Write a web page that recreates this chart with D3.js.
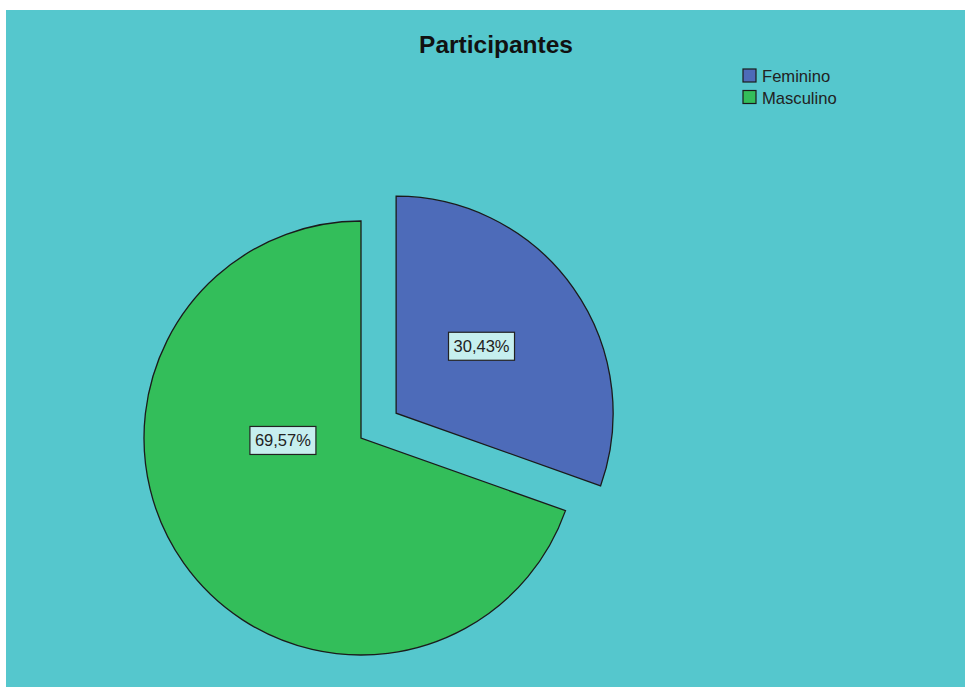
<!DOCTYPE html>
<html>
<head>
<meta charset="utf-8">
<script src="https://cdn.jsdelivr.net/npm/d3@7"></script>
<style>
  body { margin: 0; background: #fff; }
  svg { display: block; }
</style>
</head>
<body>
<div id="chart"></div>
<script>
(function() {
  var width = 965,
    height = 687;

  // data
  var categories = ["Feminino", "Masculino"];
  var percents = [30.43, 69.57];
  var labels = ["30,43%", "69,57%"];
  var colors = ["#4d6bb9", "#33be5a"];

  var svg = d3.select("#chart")
    .append("svg")
    .attr("width", width)
    .attr("height", height);

  // teal plot background
  svg.append("rect")
    .attr("x", 6)
    .attr("y", 10)
    .attr("width", width - 6)
    .attr("height", height - 10)
    .attr("fill", "#55c7cd");

  svg.append("text")
    .attr("x", 496)
    .attr("y", 53)
    .attr("text-anchor", "middle")
    .attr("font-family", "Liberation Sans, Arial, sans-serif")
    .attr("font-weight", "bold")
    .attr("font-size", "24.5px")
    .attr("fill", "#111")
    .text("Participantes");

  var radius = 217,
    cx = 361,
    cy = 438,
    explode = 43;

  var pie = d3.pie().sort(null).value(function(d) { return d.value; });
  var arc = d3.arc().innerRadius(0).outerRadius(radius);

  var rows = categories.map(function(c, i) {
    return { name: c, value: percents[i], label: labels[i], color: colors[i] };
  });
  var arcs = pie(rows);

  // the first (smaller) slice is pulled out along its bisector
  function offset(d, i) {
    if (i !== 0) return [0, 0];
    var mid = (d.startAngle + d.endAngle) / 2;
    return [Math.sin(mid) * explode, -Math.cos(mid) * explode];
  }

  var slices = svg.selectAll(".slice")
    .data(arcs)
    .enter().append("g")
    .attr("class", "slice")
    .attr("transform", function(d, i) {
      var o = offset(d, i);
      return "translate(" + (cx + o[0]) + "," + (cy + o[1]) + ")";
    });

  slices.append("path")
    .attr("d", arc)
    .attr("fill", function(d) { return d.data.color; })
    .attr("stroke", "#1b1b1b")
    .attr("stroke-width", 1.3)
    .attr("stroke-linejoin", "miter");

  // label anchor: small slice on its bisector, big slice toward the left side
  function labelPos(d) {
    if (d.endAngle - d.startAngle < Math.PI) {
      var mid = (d.startAngle + d.endAngle) / 2 - 0.05;
      return [Math.sin(mid) * radius * 0.5, -Math.cos(mid) * radius * 0.5];
    }
    var a = Math.PI * 1.49;
    return [Math.sin(a) * radius * 0.36, -Math.cos(a) * radius * 0.36];
  }

  var lab = slices.append("g")
    .attr("transform", function(d) {
      var p = labelPos(d);
      return "translate(" + p[0] + "," + p[1] + ")";
    });

  lab.append("rect")
    .attr("x", -33)
    .attr("y", -14)
    .attr("width", 66)
    .attr("height", 28)
    .attr("fill", "#c6efef")
    .attr("stroke", "#222")
    .attr("stroke-width", 1.2);

  lab.append("text")
    .attr("text-anchor", "middle")
    .attr("y", 6)
    .attr("font-family", "Liberation Sans, Arial, sans-serif")
    .attr("font-size", "16.5px")
    .attr("fill", "#222")
    .text(function(d) { return d.data.label; });

  // legend
  var legend = svg.selectAll(".legend")
    .data(rows)
    .enter().append("g")
    .attr("class", "legend")
    .attr("transform", function(d, i) {
      return "translate(743," + (69 + i * 21.5) + ")";
    });

  legend.append("rect")
    .attr("width", 13)
    .attr("height", 13)
    .attr("fill", function(d) { return d.color; })
    .attr("stroke", "#1b1b1b")
    .attr("stroke-width", 1.2);

  legend.append("text")
    .attr("x", 19)
    .attr("y", 13)
    .attr("font-family", "Liberation Sans, Arial, sans-serif")
    .attr("font-size", "16.6px")
    .attr("fill", "#222")
    .text(function(d) { return d.name; });

})();
</script>
</body>
</html>
